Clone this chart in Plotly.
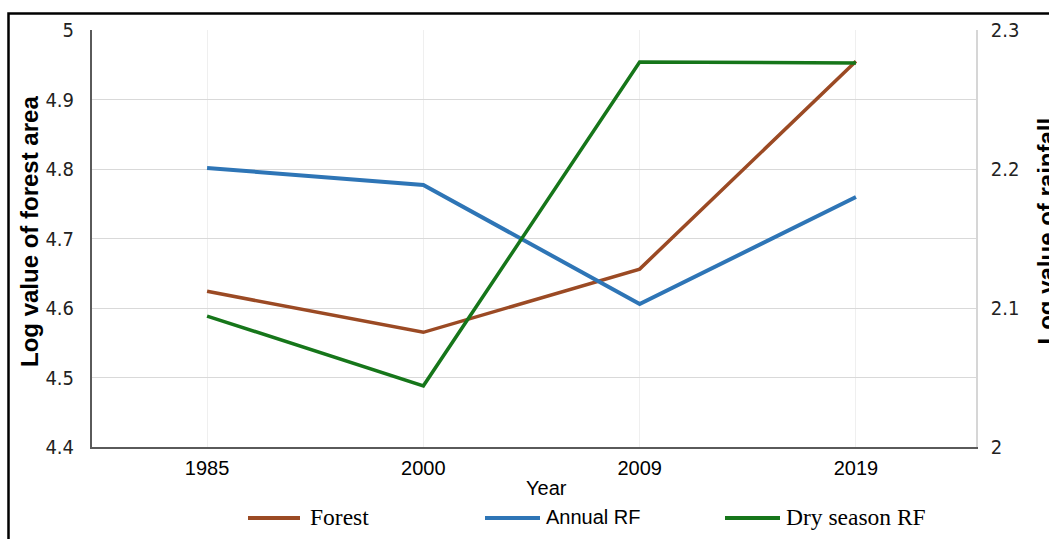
import plotly.graph_objects as go

years = ["1985", "2000", "2009", "2019"]
forest = [4.624, 4.565, 4.656, 4.955]
annual_rf = [2.2007, 2.1885, 2.1029, 2.1798]
dry_rf = [2.0942, 2.0440, 2.2770, 2.2763]

left_ticks = [4.4, 4.5, 4.6, 4.7, 4.8, 4.9, 5.0]
left_ticktext = ["4.4", "4.5", "4.6", "4.7", "4.8", "4.9", "5"]
right_ticks = [2.0, 2.1, 2.2, 2.3]
right_ticktext = ["2", "2.1", "2.2", "2.3"]

series_names = ["Forest", "Annual RF", "Dry season RF"]
series_colors = ["#9b4a24", "#2e75b6", "#16761a"]

W, H = 1049, 539
L, R, T, B = 92, 73, 30, 92
pw, ph = W - L - R, H - T - B


def px_x(p):
    return (p - L) / pw


def px_y(p):
    return (H - B - p) / ph


fig = go.Figure()
fig.add_trace(go.Scatter(x=years, y=forest, mode="lines", name=series_names[0],
                         line=dict(color=series_colors[0], width=3.5)))
fig.add_trace(go.Scatter(x=years, y=annual_rf, mode="lines", yaxis="y2", name=series_names[1],
                         line=dict(color=series_colors[1], width=4)))
fig.add_trace(go.Scatter(x=years, y=dry_rf, mode="lines", yaxis="y2", name=series_names[2],
                         line=dict(color=series_colors[2], width=3.5)))

tick_font = dict(family="DejaVu Sans Condensed, DejaVu Sans", size=20, color="#222222")

fig.update_layout(
    width=W, height=H,
    margin=dict(l=L, r=R, t=T, b=B, autoexpand=False),
    paper_bgcolor="white", plot_bgcolor="white",
    showlegend=False,
    xaxis=dict(type="category", range=[-0.532, 3.555], automargin=False,
               showgrid=True, gridcolor="#efefef", gridwidth=1,
               showline=True, linecolor="#5a5a5a", linewidth=2,
               ticks="", ticklabelstandoff=2,
               tickfont=dict(family="Liberation Sans", size=20, color="black"),
               zeroline=False),
    yaxis=dict(range=[4.4, 5.0], tickvals=left_ticks, ticktext=left_ticktext, automargin=False,
               showgrid=True, gridcolor="#d9d9d9", gridwidth=1.2,
               showline=True, linecolor="#5a5a5a", linewidth=2,
               ticks="", ticklabelstandoff=12,
               tickfont=tick_font, zeroline=False),
    yaxis2=dict(range=[2.0, 2.3], tickvals=right_ticks, ticktext=right_ticktext, automargin=False,
                overlaying="y", side="right", showgrid=False, showline=True,
                linecolor="#d6d6d6", linewidth=1.5, ticks="", ticklabelstandoff=9,
                tickfont=tick_font, zeroline=False),
)

# axis titles (the right one is cut by the figure edge, as in the original)
fig.add_annotation(text="<b>Log value of forest area</b>", xref="paper", yref="paper",
                   x=px_x(29), y=px_y(232), xanchor="center", yanchor="middle", textangle=-90,
                   showarrow=False, font=dict(family="Liberation Sans", size=24, color="black"))
fig.add_annotation(text="<b>Log value of rainfall</b>", xref="paper", yref="paper",
                   x=px_x(1030), y=px_y(231), xanchor="left", yanchor="middle", textangle=-90,
                   showarrow=False, font=dict(family="Liberation Sans", size=24, color="black"))
fig.add_annotation(text="Year", xref="paper", yref="paper",
                   x=px_x(546), y=px_y(488), xanchor="center", yanchor="middle",
                   showarrow=False, font=dict(family="Liberation Sans", size=20, color="black"))

# legend (drawn below the plot)
legend_line_x = [(248, 300), (485, 540), (725, 780)]
legend_text_x = [308, 544, 784]
legend_fonts = ["Liberation Serif", "Liberation Sans", "Liberation Serif"]
legend_sizes = [23.5, 20, 23.5]
legend_y = 518
for name, color, (x0, x1), tx, fam, fs in zip(series_names, series_colors, legend_line_x,
                                              legend_text_x, legend_fonts, legend_sizes):
    fig.add_shape(type="line", xref="paper", yref="paper",
                  x0=px_x(x0), x1=px_x(x1), y0=px_y(legend_y), y1=px_y(legend_y),
                  line=dict(color=color, width=4))
    fig.add_annotation(text=name, xref="paper", yref="paper",
                       x=px_x(tx), y=px_y(legend_y - 1), xanchor="left", yanchor="middle",
                       showarrow=False, font=dict(family=fam, size=fs, color="black"))

# outer frame of the figure
fig.add_shape(type="rect", xref="paper", yref="paper",
              x0=px_x(8.5), x1=px_x(1100), y0=px_y(600), y1=px_y(13.5),
              line=dict(color="black", width=2.5), fillcolor="rgba(0,0,0,0)", layer="above")

fig.write_html("out.html", config={"displayModeBar": False},
               post_script="document.body.style.margin='0';document.body.style.overflow='hidden';")
